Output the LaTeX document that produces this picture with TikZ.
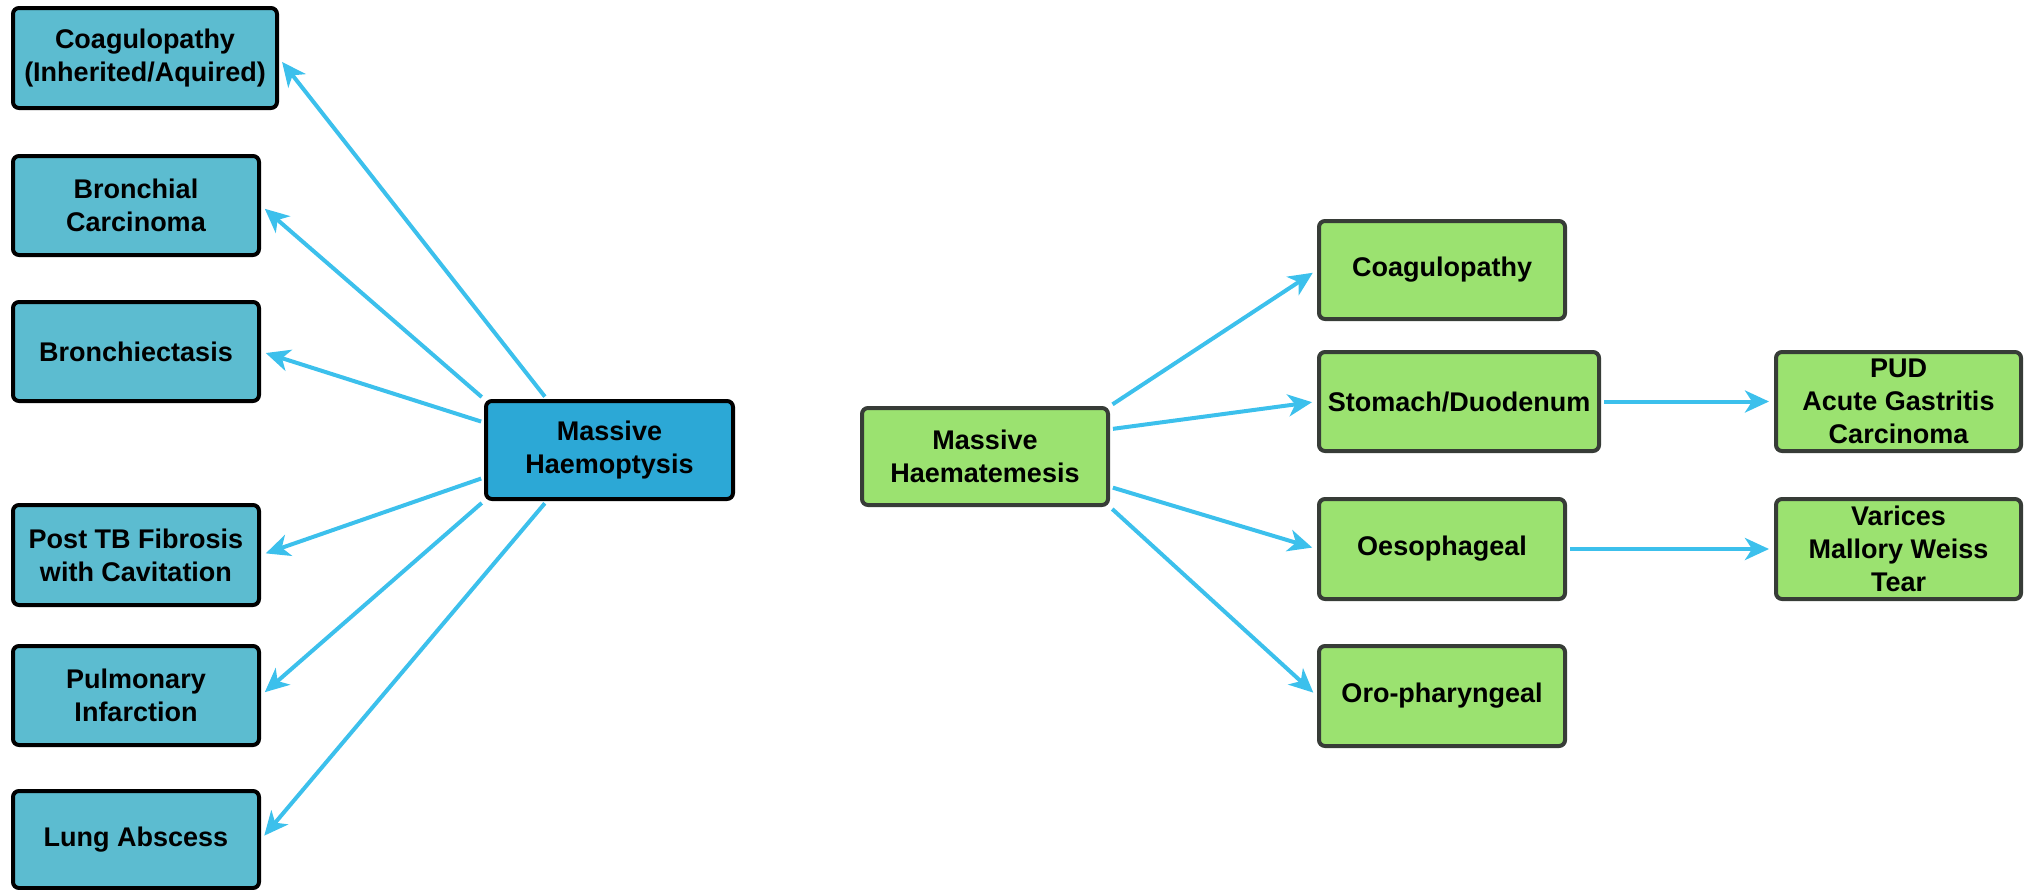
\documentclass[tikz,border=0pt]{standalone}
\usepackage{fontspec}
\setmainfont{Liberation Sans}
\usetikzlibrary{arrows.meta,calc}

\definecolor{arrowblue}{RGB}{60,192,236}
\definecolor{tealfill}{RGB}{92,188,208}
\definecolor{bluefill}{RGB}{44,168,214}
\definecolor{greenfill}{RGB}{155,226,112}
\definecolor{greenedge}{RGB}{55,60,55}

\tikzset{
  box/.style={rectangle, rounded corners=6pt, line width=4pt, align=center,
    inner sep=0pt, minimum width=246pt, minimum height=99pt,
    font=\fontsize{27}{33}\selectfont\bfseries},
  tealbox/.style={box, draw=black, fill=tealfill},
  hubblue/.style={box, draw=black, fill=bluefill},
  greenbox/.style={box, draw=greenedge, fill=greenfill},
  link/.style={draw=arrowblue, line width=4pt, shorten <=3pt, shorten >=5pt,
    -{Stealth[length=24pt, width=22pt, inset=7pt]}}
}

\begin{document}
\begin{tikzpicture}[x=1pt, y=-1pt]
  \useasboundingbox (0,0) rectangle (2027,889);

  % Haemoptysis side
  \node[hubblue, minimum width=247pt, minimum height=98pt] (hp) at (609.5,450) {Massive\\Haemoptysis};
  \node[tealbox, minimum width=264pt, minimum height=100pt] (coag) at (145,58) {Coagulopathy\\(Inherited/Aquired)};
  \node[tealbox] (bronch) at (136,205.5) {Bronchial\\Carcinoma};
  \node[tealbox] (bect) at (136,351.5) {Bronchiectasis};
  \node[tealbox, minimum height=100pt] (tb) at (136,555) {Post TB Fibrosis\\with Cavitation};
  \node[tealbox] (pulm) at (136,695.5) {Pulmonary\\Infarction};
  \node[tealbox, minimum height=97pt] (lung) at (136,839.5) {Lung Abscess};

  \coordinate (a1) at ($(hp.north west)!0.25!(hp.north east)$);
  \coordinate (a2) at (hp.north west);
  \coordinate (a3) at ($(hp.north west)!0.23!(hp.south west)$);
  \coordinate (a4) at ($(hp.north west)!0.77!(hp.south west)$);
  \coordinate (a5) at (hp.south west);
  \coordinate (a6) at ($(hp.south west)!0.25!(hp.south east)$);

  \draw[link] (a1) -- (coag.east);
  \draw[link] (a2) -- (bronch.east);
  \draw[link] (a3) -- (bect.east);
  \draw[link] (a4) -- (tb.east);
  \draw[link] (a5) -- (pulm.east);
  \draw[link] (a6) -- (lung.east);

  % Haematemesis side
  \node[greenbox, minimum height=97pt] (hm) at (985,456.5) {Massive\\Haematemesis};
  \node[greenbox, minimum height=98pt] (gcoag) at (1442,270) {Coagulopathy};
  \node[greenbox, minimum width=280pt] (stom) at (1459,401.5) {Stomach/Duodenum};
  \node[greenbox, minimum height=100pt] (oes) at (1442,549) {Oesophageal};
  \node[greenbox, minimum height=100pt] (oro) at (1442,696) {Oro-pharyngeal};
  \node[greenbox, minimum width=245pt] (pud) at (1898.5,401.5) {PUD\\Acute Gastritis\\Carcinoma};
  \node[greenbox, minimum width=245pt, minimum height=100pt] (var) at (1898.5,549) {Varices\\Mallory Weiss\\Tear};

  \coordinate (b1) at (hm.north east);
  \coordinate (b2) at ($(hm.north east)!0.23!(hm.south east)$);
  \coordinate (b3) at ($(hm.north east)!0.80!(hm.south east)$);
  \coordinate (b4) at (hm.south east);

  \draw[link] (b1) -- (gcoag.west);
  \draw[link] (b2) -- (stom.west);
  \draw[link] (b3) -- (oes.west);
  \draw[link] (b4) -- (oro.west);
  \draw[link] (stom.east) -- (pud.west);
  \draw[link] (oes.east) -- (var.west);
\end{tikzpicture}
\end{document}
